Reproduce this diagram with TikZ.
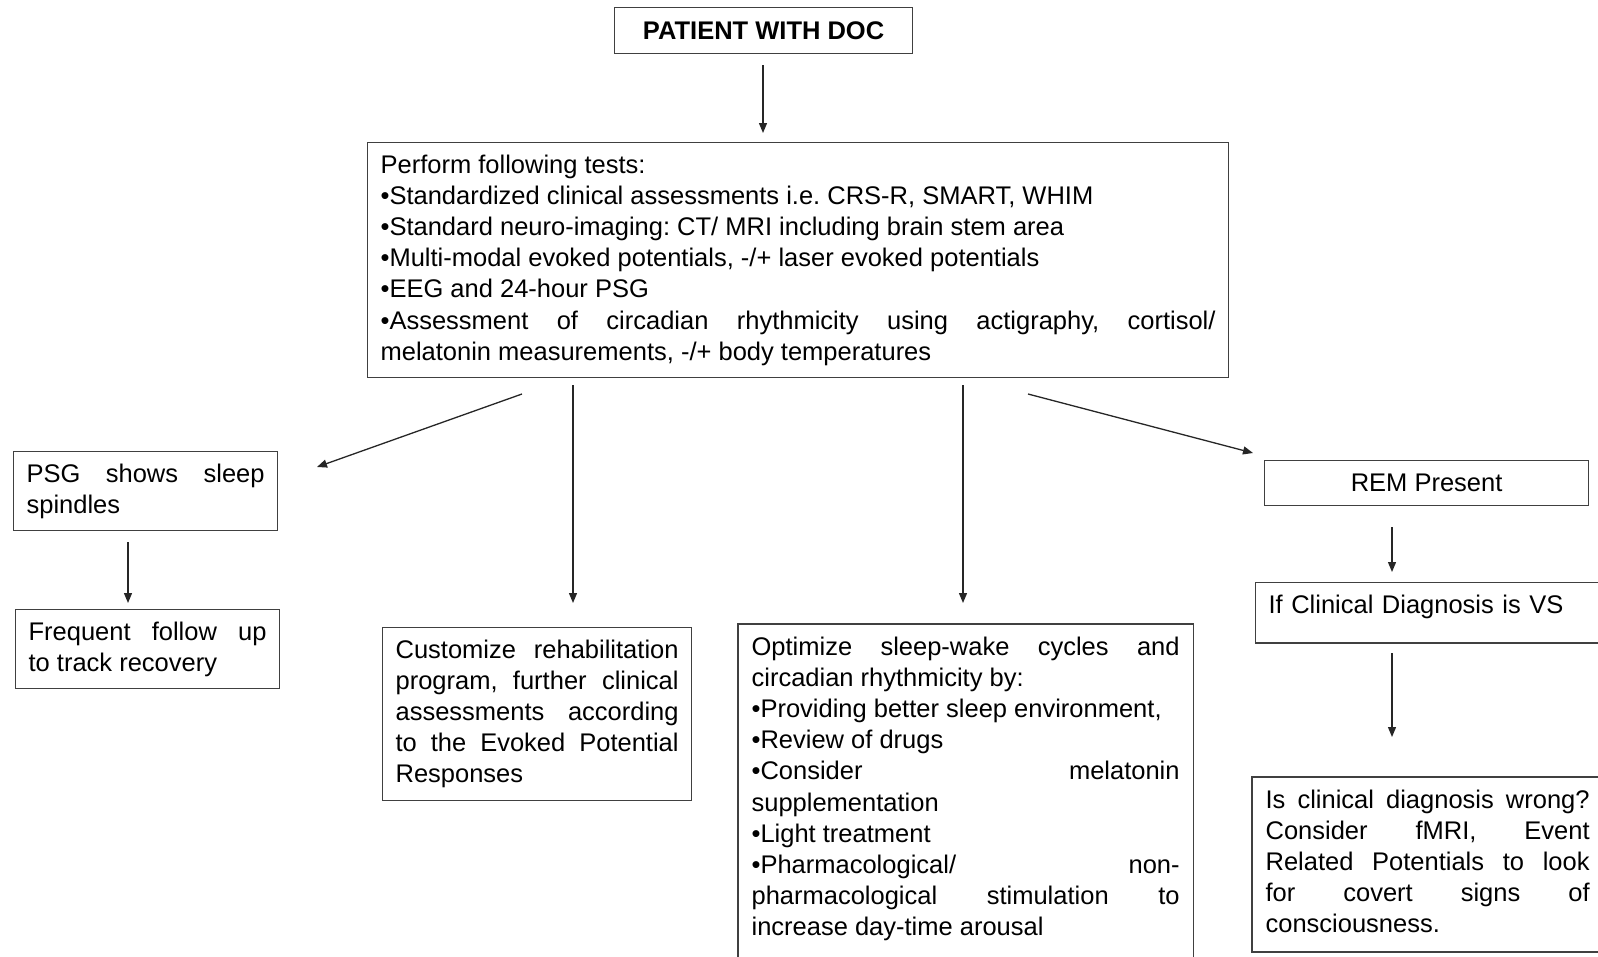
\documentclass[tikz,border=0pt]{standalone}
\usepackage{fontspec}
\setmainfont{Liberation Sans}
\usepackage{tikz}
\usetikzlibrary{arrows.meta}
\frenchspacing
\tolerance=10000
\hbadness=10000

\begin{document}
\begin{tikzpicture}[x=1pt, y=-1pt,
    frame/.style={draw=black!75, line width=1.2pt},
    box/.style={frame, anchor=north west, inner xsep=13pt, inner ysep=12pt,
        align=justify, font=\fontsize{25.5}{31.2}\selectfont},
    arr/.style={draw=black!85, line width=1.3pt, -{Triangle[length=10pt,width=8pt]}}]

    \useasboundingbox (0,0) rectangle (1598,956);

    % top of the chart
    \node [box, align=center, minimum width=298pt, minimum height=46pt, font=\fontsize{25.5}{31.2}\selectfont\bfseries] (doc) at (614,7) {PATIENT WITH DOC};
    \node [box, text width=835pt] (tests) at (367,142) {Perform following tests:\\
        •Standardized clinical assessments i.e. CRS-R, SMART, WHIM\\
        •Standard neuro-imaging: CT/ MRI including brain stem area\\
        •Multi-modal evoked potentials, -/+ laser evoked potentials\\
        •EEG and 24-hour PSG\\
        •Assessment of circadian rhythmicity using actigraphy, cortisol/\linebreak
        melatonin measurements, -/+ body temperatures};

    % left branch
    \node [box, text width=238pt] (psg) at (13,451) {PSG shows sleep\linebreak spindles};
    \node [box, text width=238pt] (follow) at (15,609) {Frequent follow up\linebreak to track recovery};

    % middle branches
    \node [box, text width=283pt] (rehab) at (382,627) {Customize rehabilitation\linebreak
        program, further clinical\linebreak assessments according\linebreak
        to the Evoked Potential\linebreak Responses};
    \node [box, draw=none, text width=428pt] (sleep) at (738,624) {Optimize sleep-wake cycles and\linebreak
        circadian rhythmicity by:\\
        •Providing better sleep environment,\\
        •Review of drugs\\
        •Consider melatonin\linebreak supplementation\\
        •Light treatment\\
        •Pharmacological/ non-\linebreak pharmacological stimulation to\linebreak
        increase day-time arousal};
    \draw [frame] (sleep.north west) rectangle (sleep.east |- 0,990);

    % right branch
    \node [box, align=center, minimum width=324pt, minimum height=45pt] (rem) at (1264,460) {REM Present};
    \node [box, align=left, text width=340pt, text depth=18pt] (vs) at (1255,582) {If Clinical Diagnosis is VS};
    \node [box, draw=none, text width=324pt] (covert) at (1252,777) {Is clinical diagnosis wrong?\linebreak
        Consider fMRI, Event\linebreak Related Potentials to look\linebreak
        for covert signs of\linebreak consciousness.};
    \draw [frame] (covert.north west) rectangle (covert.east |- 0,952);

    % arrow ends
    \coordinate (d1) at (763,65);   \coordinate (d2) at (763,133);
    \coordinate (l1) at (522,394);  \coordinate (l2) at (317,467);
    \coordinate (m1) at (573,385);  \coordinate (m2) at (573,603);
    \coordinate (n1) at (963,385);  \coordinate (n2) at (963,603);
    \coordinate (r1) at (1028,394); \coordinate (r2) at (1253,453);
    \coordinate (p1) at (128,542);  \coordinate (p2) at (128,603);
    \coordinate (e1) at (1392,527); \coordinate (e2) at (1392,572);
    \coordinate (v1) at (1392,653); \coordinate (v2) at (1392,737);

    \draw [arr] (d1) -- (d2);
    \draw [arr] (l1) -- (l2);
    \draw [arr] (m1) -- (m2);
    \draw [arr] (n1) -- (n2);
    \draw [arr] (r1) -- (r2);
    \draw [arr] (p1) -- (p2);
    \draw [arr] (e1) -- (e2);
    \draw [arr] (v1) -- (v2);
\end{tikzpicture}
\end{document}
